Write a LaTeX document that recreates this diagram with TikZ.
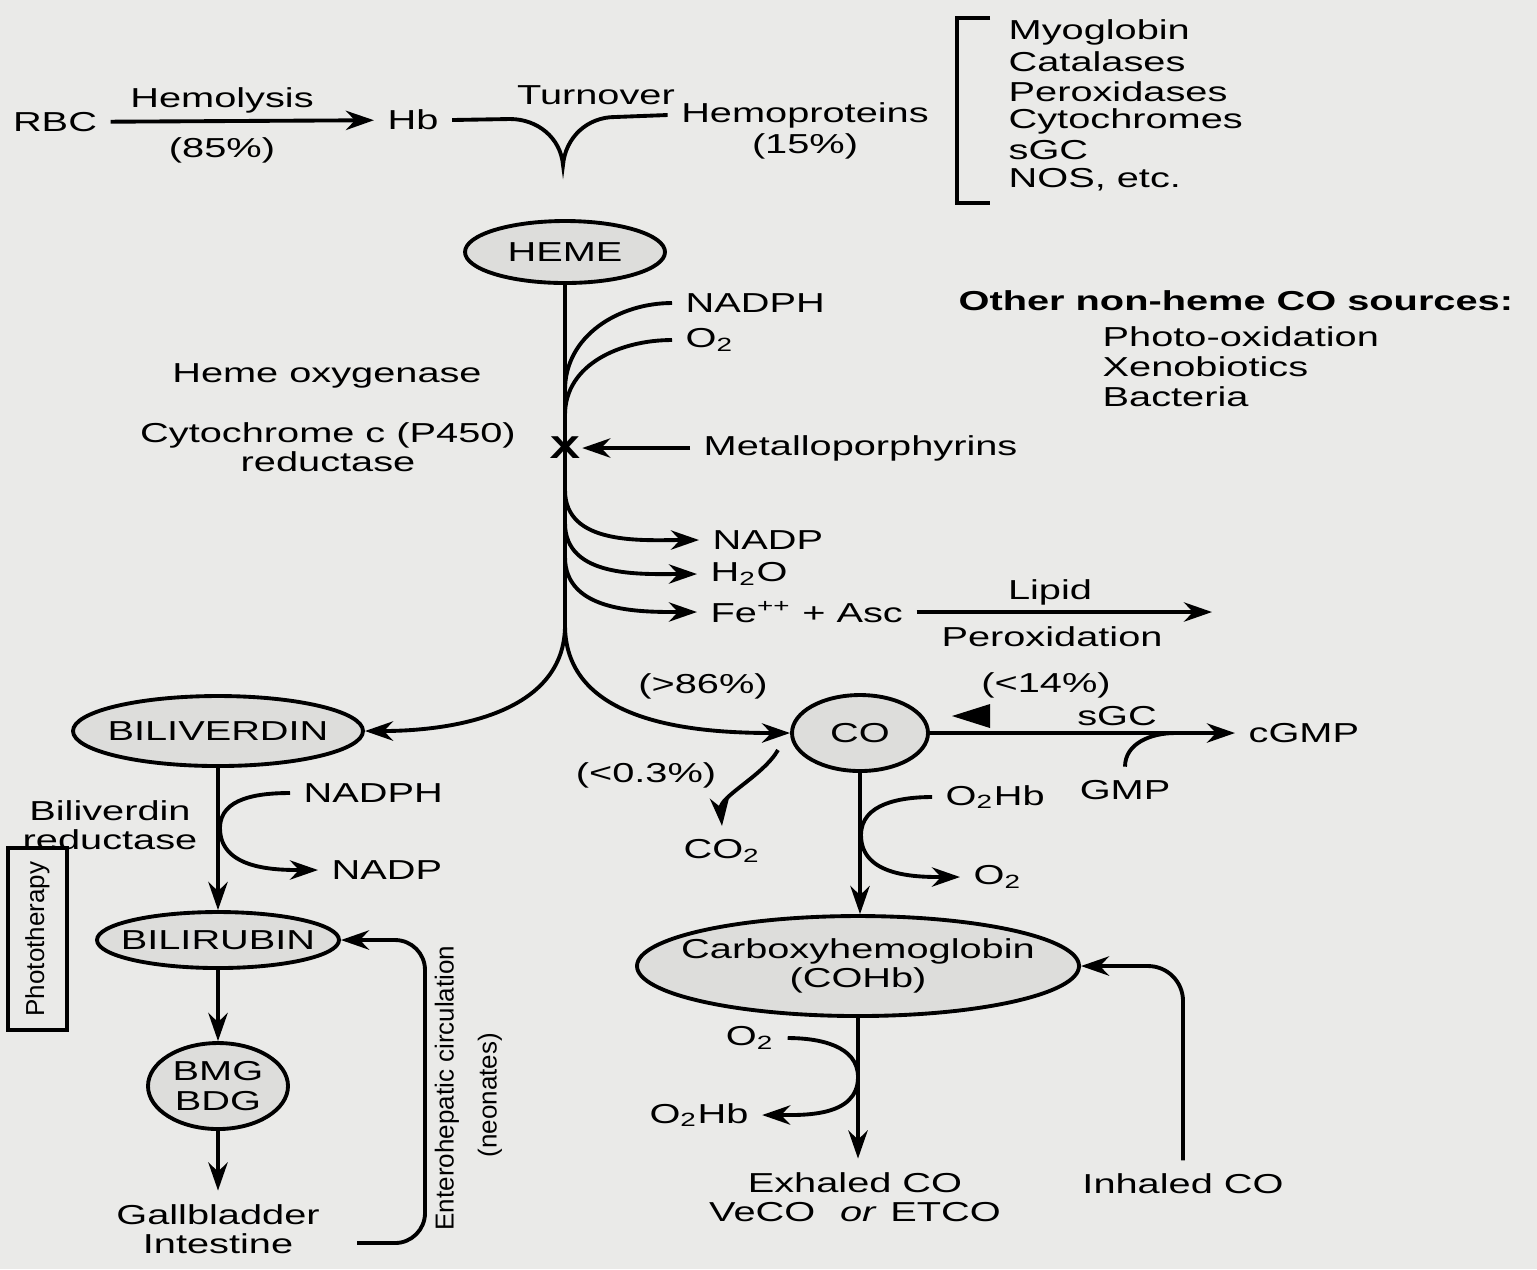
\documentclass[tikz,border=0pt]{standalone}
\usepackage{fontspec}
\setmainfont{Liberation Sans}[FakeStretch=1.45]
\newfontfamily\uprightlabel{Liberation Sans}
\usetikzlibrary{arrows.meta}
\usetikzlibrary{shapes.geometric}
\definecolor{paper}{RGB}{234,234,232}
\definecolor{shade}{RGB}{221,221,219}
\tikzset{
  pool/.style={ellipse, draw, fill=shade, inner xsep=-4mm, inner ysep=0pt},
  sidelabel/.style={font=\uprightlabel\fontsize{7.4}{8.6}\selectfont, rotate=90},
}

\begin{document}
\begin{tikzpicture}[line width=1.1pt,>={Stealth[length=8pt,width=5.5pt]},
    every node/.style={font=\fontsize{7.8}{8.4}\selectfont, align=center}]
    \fill[paper] (0,0) rectangle (15.37,-12.69);
    \useasboundingbox (0,0) rectangle (15.37,-12.69);

    % red cells and hemoproteins
    \node (rbc) at (0.55,-1.22) {RBC};
    \node (hb) at (4.13,-1.20) {Hb};
    \node (hemolysis) at (2.22,-1.00) {Hemolysis};
    \node (pct85) at (2.22,-1.50) {(85\%)};
    \node (turnover) at (5.96,-0.95) {Turnover};
    \node (hemoproteins) at (8.05,-1.15) {Hemoproteins};
    \node (pct15) at (8.05,-1.46) {(15\%)};
    \draw[->] (rbc) -- (hb);
    \draw (hb.east) -- (5.10,-1.19) to[out=0,in=95] (5.63,-1.65)
          to[out=85,in=180] (6.15,-1.17) -- (hemoproteins.west);
    \draw (9.90,-0.18) -- (9.57,-0.18) -- (9.57,-2.03) -- (9.90,-2.03);
    \foreach \name [count=\i] in {Myoglobin, Catalases, Peroxidases, Cytochromes, sGC, {NOS, etc.}}
      \node[anchor=west] (protein-\i) at (9.95,{-0.025-0.296*\i}) {\name};

    % heme oxygenase step
    \node[pool, minimum width=2.0cm, minimum height=0.62cm] (heme) at (5.65,-2.52) {HEME};
    \node[anchor=west] (nadph) at (6.72,-3.03) {NADPH};
    \node[anchor=west] (oxygen) at (6.72,-3.40) {O\textsubscript{2}};
    \node (hoxygenase) at (3.27,-3.76) {Heme oxygenase};
    \node (cpr) at (3.28,-4.47) {Cytochrome c (P450)\\reductase};
    \node[font=\fontsize{9}{9}\selectfont\bfseries, inner sep=0pt] (block) at (5.65,-4.48) {X};
    \node[anchor=west] (metallo) at (6.90,-4.48) {Metalloporphyrins};
    \node[anchor=west] (nadp) at (6.99,-5.40) {NADP};
    \node[anchor=west] (water) at (6.97,-5.74) {H\textsubscript{2}O};
    \node[anchor=west] (iron) at (6.97,-6.12) {Fe\textsuperscript{++} + Asc};
    \node (lipid) at (10.50,-5.92) {Lipid};
    \node (perox) at (10.52,-6.37) {Peroxidation};
    \coordinate (lipidend) at (12.12,-6.12);

    \node[anchor=west, font=\fontsize{7.8}{8.4}\selectfont\bfseries] (othersrc) at (9.45,-3.01) {Other non-heme CO sources:};
    \foreach \name [count=\i] in {Photo-oxidation, Xenobiotics, Bacteria}
      \node[anchor=west] (source-\i) at (10.89,{-3.07-0.30*\i}) {\name};

    \coordinate (jnadph) at (5.65,-3.90);
    \coordinate (joxygen) at (5.65,-4.15);
    \coordinate (jnadp) at (5.65,-4.90);
    \coordinate (jwater) at (5.65,-5.23);
    \coordinate (jiron) at (5.65,-5.57);
    \coordinate (split) at (5.65,-6.25);

    \draw (heme) -- (split);
    \draw (jnadph) to[out=90,in=180] (nadph.west);
    \draw (joxygen) to[out=90,in=180] (oxygen.west);
    \draw[->] (metallo) -- (block);
    \draw[->] (jnadp) to[out=-90,in=180] (nadp.west);
    \draw[->] (jwater) to[out=-90,in=180] (water.west);
    \draw[->] (jiron) to[out=-90,in=180] (iron.west);
    \draw[->] (iron.east) -- (lipidend);

    % biliverdin branch
    \node[pool, minimum width=2.90cm, minimum height=0.70cm] (biliverdin) at (2.18,-7.31) {BILIVERDIN};
    \node (bvr) at (1.10,-8.25) {Biliverdin\\reductase};
    \node[anchor=west] (nadphb) at (2.90,-7.93) {NADPH};
    \node[anchor=west] (nadpb) at (3.18,-8.70) {NADP};
    \node[pool, minimum width=2.42cm, minimum height=0.56cm] (bilirubin) at (2.18,-9.40) {BILIRUBIN};
    \node[pool, minimum width=1.40cm, minimum height=0.86cm] (bmg) at (2.18,-10.86) {BMG\\BDG};
    \node (gut) at (2.18,-12.29) {Gallbladder\\Intestine};
    \node[sidelabel, draw, line width=0.9pt, minimum width=1.82cm, minimum height=0.59cm] (photo) at (0.375,-9.39) {Phototherapy};
    \node[sidelabel] (entero) at (4.47,-10.88) {Enterohepatic circulation};
    \node[sidelabel] (neonates) at (4.90,-10.95) {(neonates)};
    \coordinate (jbvr) at (2.20,-8.28);
    \coordinate (entstart) at (3.57,-12.43);

    \draw[->] (split) to[out=-90,in=0] (biliverdin.east);
    \draw[->] (biliverdin) -- (bilirubin);
    \draw[->] (nadphb.west) to[out=180,in=90] (jbvr) to[out=-90,in=180] (nadpb.west);
    \draw[->] (bilirubin) -- (bmg);
    \draw[->] (bmg) -- (gut);
    \draw[->, rounded corners=0.3cm] (entstart) -- ++(0.68,0) |- (bilirubin.east);

    % carbon monoxide branch
    \node[pool, minimum width=1.36cm, minimum height=0.76cm] (co) at (8.60,-7.33) {CO};
    \node (pct86) at (7.03,-6.86) {(>86\%)};
    \node (pct14) at (10.46,-6.85) {(<14\%)};
    \node (sgc) at (11.17,-7.16) {sGC};
    \node[anchor=west] (cgmp) at (12.35,-7.33) {cGMP};
    \node (gmp) at (11.25,-7.90) {GMP};
    \node (pct03) at (6.46,-7.75) {(<0.3\%)};
    \node (co2) at (7.22,-8.51) {CO\textsubscript{2}};
    \node[anchor=west] (oxyhb) at (9.32,-7.97) {O\textsubscript{2}Hb};
    \node[anchor=west] (oxygenout) at (9.60,-8.77) {O\textsubscript{2}};
    \node[pool, minimum width=4.42cm, minimum height=1.0cm] (cohb) at (8.58,-9.66) {Carboxyhemoglobin\\(COHb)};
    \node (oxygenin) at (7.50,-10.38) {O\textsubscript{2}};
    \node (oxyhbout) at (6.99,-11.15) {O\textsubscript{2}Hb};
    \node (exhaled) at (8.55,-11.97) {Exhaled CO\\VeCO \enspace\textit{or}\enspace ETCO};
    \node (inhaled) at (11.83,-11.84) {Inhaled CO};
    \coordinate (jgmp) at (11.75,-7.33);
    \coordinate (coleft) at (7.78,-7.50);
    \coordinate (jco) at (8.61,-8.35);
    \coordinate (jcohb) at (8.58,-10.77);

    \draw[->] (split) to[out=-90,in=180] (co.west);
    \fill (9.52,-7.16) -- (9.90,-7.04) -- (9.90,-7.28) -- cycle;
    \draw[->] (co.east) -- (cgmp.west);
    \draw (gmp.north) to[out=90,in=180] (jgmp);
    \draw[->] (coleft) to[out=-120,in=95, looseness=0.8] (co2.north);
    \draw[->] (co.south) -- (co.south |- cohb.north);
    \draw[->] (oxyhb.west) to[out=180,in=90] (jco) to[out=-90,in=180] (oxygenout.west);
    \draw[->] (cohb.south) -- (cohb.south |- exhaled.north);
    \draw[->] (oxygenin.east) to[out=0,in=90] (jcohb) to[out=-90,in=0] (oxyhbout.east);
    \draw[->, rounded corners=0.35cm] (inhaled.north) |- (cohb.east);
\end{tikzpicture}
\end{document}
